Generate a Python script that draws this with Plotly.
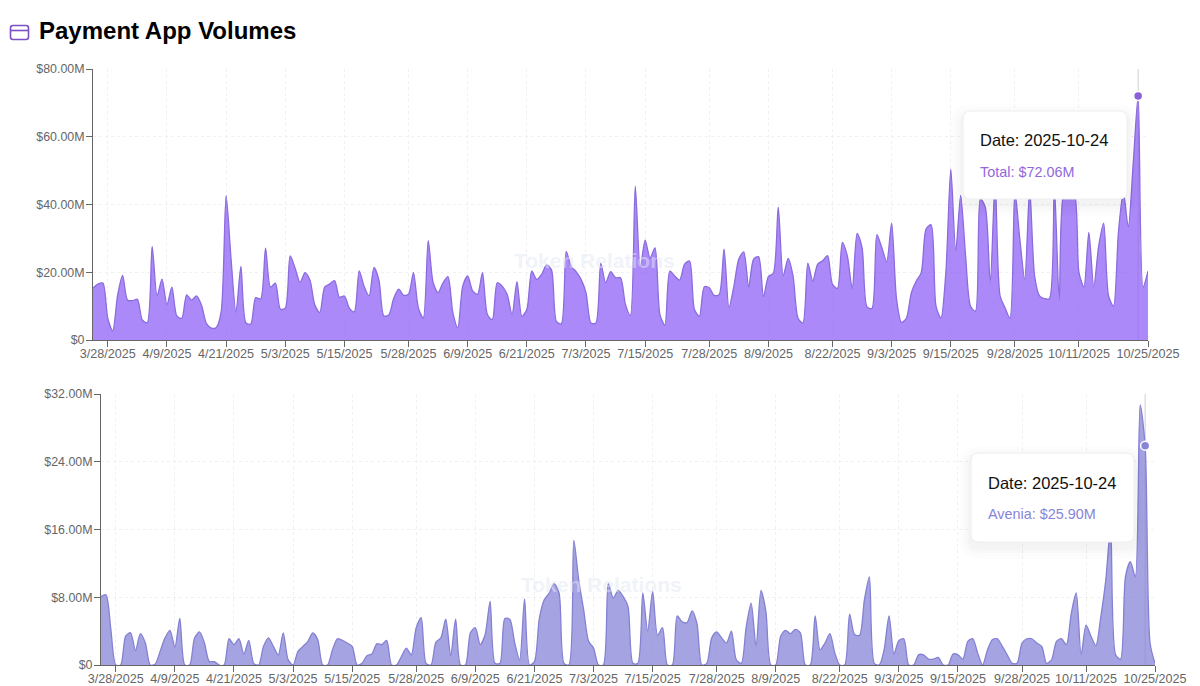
import pandas as pd
import plotly.graph_objects as go
from plotly.subplots import make_subplots

# Daily volumes in $M
total_volume = [
    15.3, 16.5, 16.8, 6.4, 2.7, 13.3, 19.1, 11.8, 11.6, 12.0, 5.9, 5.1, 27.6, 13.0, 18.0,
    10.4, 15.6, 7.1, 6.4, 13.3, 11.8, 13.0, 10.3, 4.9, 3.5, 3.7, 8.4, 42.6, 24.0, 8.1,
    21.7, 5.1, 4.7, 12.5, 12.1, 27.1, 15.6, 16.8, 9.1, 9.4, 24.8, 21.2, 17.0, 19.9, 17.7,
    10.3, 8.1, 15.6, 16.5, 17.5, 12.6, 13.0, 9.4, 8.3, 20.4, 15.8, 13.0, 21.4, 17.7, 7.1,
    7.4, 12.3, 15.0, 13.2, 13.5, 19.9, 9.5, 6.5, 29.3, 16.9, 14.0, 16.9, 18.7, 8.0, 3.6,
    15.9, 18.9, 14.5, 13.5, 19.9, 7.5, 6.0, 16.9, 15.9, 13.5, 7.5, 17.2, 7.0, 9.0, 20.3,
    17.9, 19.4, 22.2, 20.7, 5.5, 4.8, 26.1, 21.7, 20.2, 17.9, 14.0, 5.0, 5.0, 22.6, 16.9,
    20.2, 18.4, 18.4, 10.5, 7.2, 45.4, 21.4, 29.5, 24.2, 27.2, 7.5, 4.4, 20.3, 18.9, 17.7,
    22.4, 23.3, 9.0, 7.0, 15.7, 15.4, 13.2, 13.4, 26.8, 9.5, 15.9, 23.9, 26.0, 15.7, 23.9,
    24.6, 12.8, 18.7, 19.7, 39.2, 18.9, 24.1, 18.9, 6.5, 5.0, 22.7, 17.4, 22.4, 23.4, 24.9,
    16.4, 15.2, 28.8, 24.9, 15.2, 31.5, 27.3, 9.8, 9.3, 31.1, 27.3, 23.1, 34.5, 12.0, 5.2,
    6.5, 14.0, 17.4, 19.9, 32.8, 34.0, 10.0, 6.5, 20.0, 50.4, 26.3, 42.7, 24.9, 10.0, 8.5,
    41.7, 39.2, 16.9, 47.0, 13.0, 9.5, 6.5, 43.7, 29.8, 17.9, 44.7, 18.9, 13.0, 12.2, 12.2,
    45.6, 11.8, 43.7, 43.7, 43.7, 19.9, 15.7, 31.8, 15.7, 27.8, 34.5, 13.0, 10.0, 31.8, 43.7,
    33.3, 52.0, 72.06, 15.7, 20.3,
]
avenia_volume = [
    8.1, 8.3, 4.2, 0, 0, 3.4, 3.8, 1.7, 3.7, 2.6, 0, 0.1, 1.6, 3.2, 4.1,
    2.1, 5.5, 0, 0, 3.2, 3.9, 2.6, 0.4, 0.4, 0, 0, 3.1, 2.4, 3.1, 1.3,
    2.9, 0.2, 0, 2.2, 3.2, 2.2, 1.2, 3.8, 0.6, 0, 1.6, 2.2, 2.8, 3.8, 3.0,
    0, 0, 1.8, 3.1, 2.9, 2.6, 2.2, 0, 0.2, 1.1, 1.3, 2.5, 2.4, 2.9, 0,
    0, 1.0, 2.0, 1.2, 4.4, 5.6, 0.2, 0, 2.7, 3.2, 5.4, 1.1, 5.4, 0, 0,
    3.8, 4.4, 2.4, 3.6, 7.5, 0.2, 0.2, 5.5, 5.4, 2.6, 0.6, 7.8, 0, 0.4, 5.5,
    7.7, 8.5, 9.6, 8.5, 0.2, 0, 14.7, 10.0, 6.5, 2.8, 2.0, 0, 0, 9.6, 7.9,
    8.8, 8.1, 6.9, 0.2, 0.2, 8.5, 4.0, 8.7, 3.5, 4.4, 0, 0, 5.8, 5.1, 5.0,
    6.4, 4.9, 0, 0.2, 3.2, 3.9, 3.2, 2.6, 4.0, 0.6, 0.2, 4.5, 7.3, 2.2, 8.8,
    6.3, 0, 0, 3.4, 4.1, 3.7, 4.2, 3.8, 0, 0, 5.8, 1.8, 2.6, 3.7, 1.4,
    0, 0, 6.0, 3.6, 3.5, 7.7, 10.4, 0.2, 0, 1.8, 5.8, 1.3, 2.9, 3.1, 0,
    0, 1.2, 1.2, 0.7, 0.7, 0.9, 0, 0, 1.3, 1.2, 0.7, 2.8, 3.1, 1.4, 0,
    1.8, 3.0, 3.1, 2.2, 1.2, 0.2, 0.2, 2.6, 3.1, 3.1, 2.6, 2.2, 0.2, 0.6, 2.8,
    3.1, 2.4, 6.1, 8.5, 1.2, 4.7, 3.4, 2.3, 5.7, 10.0, 16.3, 1.2, 0.7, 10.4, 12.2,
    10.4, 30.7, 25.9, 2.6, 0.2,
]
dates = pd.date_range("2025-03-25", periods=len(total_volume))

tick_dates = ["2025-03-28", "2025-04-09", "2025-04-21", "2025-05-03", "2025-05-15", "2025-05-28",
              "2025-06-09", "2025-06-21", "2025-07-03", "2025-07-15", "2025-07-28", "2025-08-09",
              "2025-08-22", "2025-09-03", "2025-09-15", "2025-09-28", "2025-10-11", "2025-10-25"]
tick_labels = ["3/28/2025", "4/9/2025", "4/21/2025", "5/3/2025", "5/15/2025", "5/28/2025",
               "6/9/2025", "6/21/2025", "7/3/2025", "7/15/2025", "7/28/2025", "8/9/2025",
               "8/22/2025", "9/3/2025", "9/15/2025", "9/28/2025", "10/11/2025", "10/25/2025"]
total_ticks = [0, 20, 40, 60, 80]
total_tick_labels = ["$0", "$20.00M", "$40.00M", "$60.00M", "$80.00M"]
avenia_ticks = [0, 8, 16, 24, 32]
avenia_tick_labels = ["$0", "$8.00M", "$16.00M", "$24.00M", "$32.00M"]

hover_index = 212

PAGE_W, PAGE_H = 1184, 678
OFFSET = 8


def px(x):
    return (x - OFFSET) / PAGE_W


def py(y):
    return 1 - (y - OFFSET) / PAGE_H


def round_rect(x0, y0, x1, y1, r):
    # rounded box from page pixels to paper coords
    return (f"M {px(x0 + r)} {py(y0)} L {px(x1 - r)} {py(y0)} "
            f"Q {px(x1)} {py(y0)} {px(x1)} {py(y0 + r)} L {px(x1)} {py(y1 - r)} "
            f"Q {px(x1)} {py(y1)} {px(x1 - r)} {py(y1)} L {px(x0 + r)} {py(y1)} "
            f"Q {px(x0)} {py(y1)} {px(x0)} {py(y1 - r)} L {px(x0)} {py(y0 + r)} "
            f"Q {px(x0)} {py(y0)} {px(x0 + r)} {py(y0)} Z")


fig = make_subplots(rows=2, cols=1)

FONT = "Liberation Sans, Arial, sans-serif"

# Cursor lines sit behind the areas
fig.add_trace(go.Scatter(x=[dates[hover_index]] * 2, y=[0, 80], mode="lines",
                         line=dict(color="#cfcfcf", width=1), hoverinfo="skip"), row=1, col=1)
fig.add_trace(go.Scatter(x=[dates[hover_index]] * 2, y=[0, 32], mode="lines",
                         line=dict(color="#cfcfcf", width=1), hoverinfo="skip"), row=2, col=1)

fig.add_trace(go.Scatter(x=dates, y=total_volume, mode="lines", name="Total", fill="tozeroy",
                         fillcolor="rgba(139,92,246,0.72)",
                         line=dict(color="#8a6cdc", width=1.3, shape="spline", smoothing=0.75)),
              row=1, col=1)
fig.add_trace(go.Scatter(x=dates, y=avenia_volume, mode="lines", name="Avenia", fill="tozeroy",
                         fillcolor="rgba(136,132,216,0.75)",
                         line=dict(color="#8481d2", width=1.3, shape="spline", smoothing=0.75)),
              row=2, col=1)

# Active dots
fig.add_trace(go.Scatter(x=[dates[hover_index]], y=[total_volume[hover_index]], mode="markers",
                         marker=dict(color="#8b5fd8", size=9, line=dict(color="white", width=1.5))),
              row=1, col=1)
fig.add_trace(go.Scatter(x=[dates[hover_index]], y=[avenia_volume[hover_index]], mode="markers",
                         marker=dict(color="#8884d8", size=9, line=dict(color="white", width=1.5))),
              row=2, col=1)

x_style = dict(type="date", range=["2025-03-25", "2025-10-25"], tickmode="array", automargin=False,
               tickvals=tick_dates, ticktext=tick_labels, tickangle=0, ticklabelstandoff=-4,
               ticks="outside", ticklen=6, tickcolor="#666666", tickfont=dict(family=FONT, size=12.6, color="#666666"),
               showline=True, linecolor="#666666", linewidth=1, showgrid=True, gridcolor="#f0f0f0",
               griddash="3px,3px", gridwidth=1, zeroline=False)
y_style = dict(tickmode="array", ticks="outside", ticklen=6, tickcolor="#666666", automargin=False,
               ticklabelstandoff=-1, tickfont=dict(family=FONT, size=12.4, color="#666666"),
               showline=True, linecolor="#666666", linewidth=1, showgrid=True, gridcolor="#f0f0f0",
               griddash="3px,3px", gridwidth=1, zeroline=False)

fig.update_xaxes(domain=[px(93), px(1148)], **x_style, row=1, col=1)
fig.update_xaxes(domain=[px(101), px(1155)], **x_style, row=2, col=1)
fig.update_yaxes(domain=[py(340), py(69)], range=[0, 80], tickvals=total_ticks,
                 ticktext=total_tick_labels, **y_style, row=1, col=1)
fig.update_yaxes(domain=[py(665), py(394)], range=[0, 32], tickvals=avenia_ticks,
                 ticktext=avenia_tick_labels, **y_style, row=2, col=1)

shapes = []
# Card icon next to the title
shapes.append(dict(type="path", xref="paper", yref="paper", path=round_rect(10.5, 25.5, 28.5, 39.5, 2.5),
                   line=dict(color="#7e4fc4", width=1.6), fillcolor="rgba(0,0,0,0)"))
shapes.append(dict(type="line", xref="paper", yref="paper", x0=px(10.5), x1=px(28.5), y0=py(30.5), y1=py(30.5),
                   line=dict(color="#7e4fc4", width=1.6)))

# Tooltip boxes with a soft shadow
for x0, y0, x1, y1 in [(963, 111, 1127, 199), (971, 453, 1134, 542)]:
    for grow, alpha in [(12, 0.006), (9, 0.008), (6, 0.012), (3, 0.016)]:
        shapes.append(dict(type="path", xref="paper", yref="paper",
                           path=round_rect(x0 - grow, y0 - grow + 5, x1 + grow, y1 + grow + 5, 8 + grow),
                           fillcolor=f"rgba(0,0,0,{alpha})", line=dict(width=0)))
    shapes.append(dict(type="path", xref="paper", yref="paper", path=round_rect(x0, y0, x1, y1, 8),
                       fillcolor="white", line=dict(color="#eeeeee", width=1)))

annotations = [
    dict(text="<b>Payment App Volumes</b>", x=px(37), y=py(31), font=dict(size=24, color="black", family=FONT)),
    dict(text="Date: 2025-10-24", x=px(978), y=py(140), font=dict(size=16.5, color="#111111", family=FONT)),
    dict(text="Total: $72.06M", x=px(978), y=py(172), font=dict(size=14.4, color="#9068dc", family=FONT)),
    dict(text="Date: 2025-10-24", x=px(985.5), y=py(483), font=dict(size=16.5, color="#111111", family=FONT)),
    dict(text="Avenia: $25.90M", x=px(985.5), y=py(514), font=dict(size=14.4, color="#8884d8", family=FONT)),
]
for a in annotations:
    a.update(xref="paper", yref="paper", xanchor="left", yanchor="middle", showarrow=False)

# Watermarks
for wx, wy in [(594, 260), (601, 584)]:
    annotations.append(dict(text="<b>Token Relations</b>", xref="paper", yref="paper", x=px(wx), y=py(wy),
                            xanchor="center", yanchor="middle", showarrow=False,
                            font=dict(size=21, color="rgba(225,232,242,0.5)", family=FONT)))

fig.update_layout(width=PAGE_W, height=PAGE_H, autosize=False, showlegend=False,
                  margin=dict(l=0, r=0, t=0, b=0, autoexpand=False), plot_bgcolor="white", paper_bgcolor="white",
                  shapes=shapes, annotations=annotations, hovermode=False)

fig.write_html("out.html")
